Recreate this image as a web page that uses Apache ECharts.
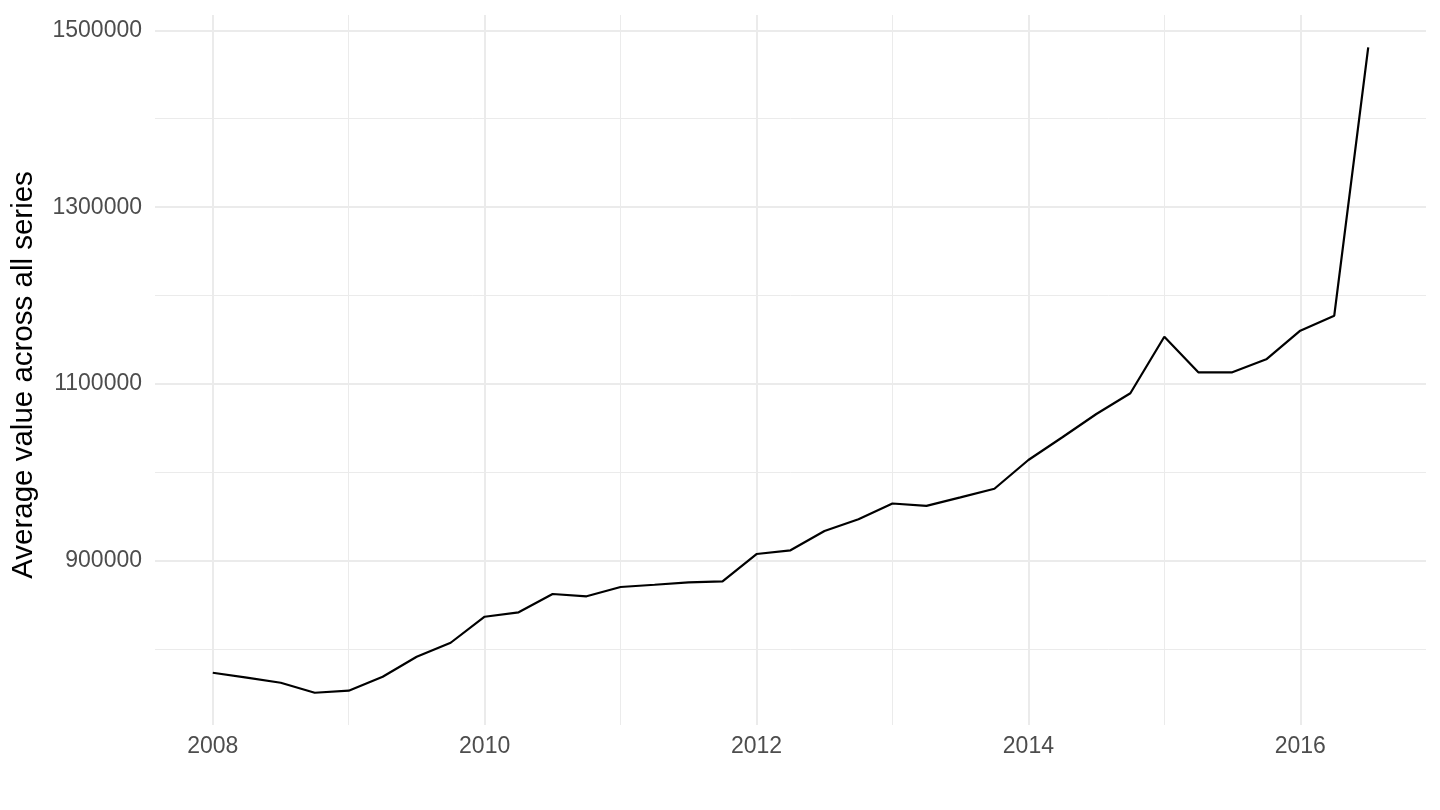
<!DOCTYPE html>
<html>
<head>
<meta charset="utf-8">
<script src="https://cdn.jsdelivr.net/npm/echarts@6/dist/echarts.min.js"></script>
<style>
html,body{margin:0;padding:0;background:#fff;}
#chart{width:1440px;height:810px;}
</style>
</head>
<body>
<div id="chart"></div>
<script>
// Quarterly time points (decimal years)
const quarters = [
  2008.00, 2008.25, 2008.50, 2008.75,
  2009.00, 2009.25, 2009.50, 2009.75,
  2010.00, 2010.25, 2010.50, 2010.75,
  2011.00, 2011.25, 2011.50, 2011.75,
  2012.00, 2012.25, 2012.50, 2012.75,
  2013.00, 2013.25, 2013.50, 2013.75,
  2014.00, 2014.25, 2014.50, 2014.75,
  2015.00, 2015.25, 2015.50, 2015.75,
  2016.00, 2016.25, 2016.50
];
// Average value across all series
const avgValues = [
  773700, 768100, 762400, 751100,
  753400, 769200, 791800, 807600,
  837000, 842000, 862700, 860100,
  870600, 873200, 875900, 877000,
  907900, 912100, 933900, 947200,
  965000, 962400, 972000, 981700,
  1014200, 1039900, 1066200, 1089600,
  1153600, 1113300, 1113300, 1128000,
  1160400, 1177300, 1480800
];
// Tick labels / gridlines
const xMajorTicks = [2008, 2010, 2012, 2014, 2016];
const xMinorTicks = [2009, 2011, 2013, 2015];
const yMajorTicks = [900000, 1100000, 1300000, 1500000];
const yMinorTicks = [800000, 1000000, 1200000, 1400000];
const yTitle = 'Average value across all series';

// ggplot-style 5% expansion of data range
const xMin = 2007.575, xMax = 2016.925;
const yMin = 714615, yMax = 1517285;

const FONT = '"Liberation Sans", Arial, Helvetica, sans-serif';
const chart = echarts.init(document.getElementById('chart'));
const seriesData = quarters.map((q, i) => [q, avgValues[i]]);

chart.setOption({
  animation: false,
  backgroundColor: '#ffffff',
  grid: { left: 155, right: 14, top: 15, bottom: 85, containLabel: false },
  xAxis: [
    {
      type: 'value', min: xMin, max: xMax,
      axisLine: { show: false },
      axisTick: { show: false, customValues: xMajorTicks },
      axisLabel: {
        customValues: xMajorTicks, formatter: v => String(v),
        fontFamily: FONT, fontSize: 23, color: '#4d4d4d', margin: 10
      },
      splitLine: { show: true, lineStyle: { color: '#ebebeb', width: 2 } }
    },
    {
      type: 'value', min: xMin, max: xMax, position: 'bottom',
      axisLine: { show: false },
      axisTick: { show: false, customValues: xMinorTicks },
      axisLabel: { show: false, customValues: xMinorTicks },
      splitLine: { show: true, lineStyle: { color: '#ebebeb', width: 1 } }
    }
  ],
  yAxis: [
    {
      type: 'value', min: yMin, max: yMax,
      name: yTitle, nameLocation: 'middle', nameGap: 116,
      nameTextStyle: { fontFamily: FONT, fontSize: 29.5, color: '#000000', padding: [0, 10, 0, 0] },
      axisLine: { show: false },
      axisTick: { show: false, customValues: yMajorTicks },
      axisLabel: {
        customValues: yMajorTicks, formatter: v => String(v),
        fontFamily: FONT, fontSize: 23, color: '#4d4d4d', margin: 13
      },
      splitLine: { show: true, lineStyle: { color: '#ebebeb', width: 2 } }
    },
    {
      type: 'value', min: yMin, max: yMax, position: 'left',
      axisLine: { show: false },
      axisTick: { show: false, customValues: yMinorTicks },
      axisLabel: { show: false, customValues: yMinorTicks },
      splitLine: { show: true, lineStyle: { color: '#ebebeb', width: 1 } }
    }
  ],
  series: [
    {
      type: 'line', xAxisIndex: 0, yAxisIndex: 0,
      data: seriesData, showSymbol: false, silent: true,
      lineStyle: { color: '#000000', width: 2.2 },
      z: 10
    }
  ]
});
</script>
</body>
</html>
